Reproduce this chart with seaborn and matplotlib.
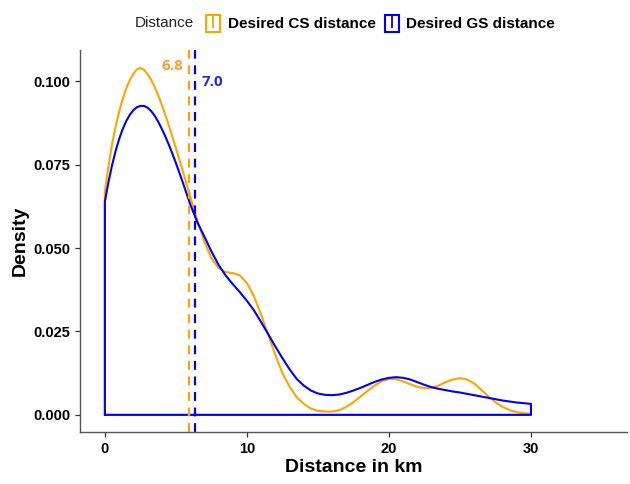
import matplotlib
matplotlib.use("Agg")
import matplotlib.pyplot as plt
import seaborn as sns
import pandas as pd
from matplotlib.patches import Patch
from matplotlib.lines import Line2D
from matplotlib.legend_handler import HandlerTuple

# density curves (km -> density)
distance_km = [0, 0.25, 0.5, 0.75, 1, 1.25, 1.5, 1.75, 2, 2.25, 2.5, 2.75, 3, 3.25, 3.5, 3.75,
               4, 4.25, 4.5, 4.75, 5, 5.5, 6, 6.5, 7, 7.5, 8, 8.5, 9, 9.5,
               10, 10.5, 11, 11.5, 12, 12.5, 13, 13.5, 14, 14.5, 15, 15.5, 16, 16.5, 17, 17.5,
               18, 18.5, 19, 19.5, 20, 20.5, 21, 21.5, 22, 22.5, 23, 23.5, 24, 24.5, 25, 25.5,
               26, 26.5, 27, 27.5, 28, 28.5, 29, 29.5, 30]
cs_density = [0.0670, 0.0745, 0.0810, 0.0863, 0.0908, 0.0946, 0.0978, 0.1003, 0.1022, 0.1035,
              0.1040, 0.1034, 0.1022, 0.1005, 0.0983, 0.0958, 0.0930, 0.0900, 0.0868, 0.0834,
              0.0800, 0.0728, 0.0655, 0.0585, 0.0520, 0.0470, 0.0440, 0.0428, 0.0425, 0.0418,
              0.0395, 0.0355, 0.0300, 0.0240, 0.0180, 0.0125, 0.0085, 0.0053, 0.0033, 0.0019,
              0.0012, 0.0010, 0.0010, 0.0014, 0.0024, 0.0038, 0.0055, 0.0072, 0.0088, 0.0101,
              0.0108, 0.0107, 0.0100, 0.0092, 0.0084, 0.0080, 0.0081, 0.0088, 0.0098, 0.0106,
              0.0110, 0.0106, 0.0094, 0.0075, 0.0055, 0.0038, 0.0024, 0.0014, 0.0008, 0.0005,
              0.0003]
gs_density = [0.0639, 0.0697, 0.0747, 0.0790, 0.0826, 0.0856, 0.0880, 0.0899, 0.0913, 0.0922,
              0.0926, 0.0926, 0.0921, 0.0911, 0.0897, 0.0879, 0.0858, 0.0835, 0.0810, 0.0783,
              0.0755, 0.0695, 0.0632, 0.0578, 0.0535, 0.0490, 0.0450, 0.0418, 0.0392, 0.0368,
              0.0342, 0.0313, 0.0278, 0.0242, 0.0205, 0.0170, 0.0137, 0.0108, 0.0088, 0.0073,
              0.0064, 0.0060, 0.0059, 0.0061, 0.0066, 0.0073, 0.0081, 0.0090, 0.0099, 0.0106,
              0.0111, 0.0113, 0.0111, 0.0106, 0.0098, 0.0090, 0.0083, 0.0078, 0.0074, 0.0070,
              0.0067, 0.0063, 0.0059, 0.0055, 0.0051, 0.0047, 0.0043, 0.0040, 0.0037, 0.0035,
              0.0033]

series_names = ["Desired CS distance", "Desired GS distance"]
series_colors = ["#FFA500", "#0000FF"]
label_colors = ["#F5A030", "#2B2BD0"]
mean_positions = [5.94, 6.36]   # where the dashed lines sit in the picture
mean_labels = ["6.8", "7.0"]
label_pos = [(4.75, 0.1045), (7.55, 0.0997)]

# closed outlines like ggplot's geom_density (baseline included)
frames = []
for name, dens in zip(series_names, [cs_density, gs_density]):
    xs = [distance_km[0]] + distance_km + [distance_km[-1], distance_km[0]]
    ys = [0.0] + dens + [0.0, 0.0]
    frames.append(pd.DataFrame({"x": xs, "y": ys, "Distance": name}))
df = pd.concat(frames, ignore_index=True)

sns.set_style("ticks")
plt.rcParams["font.family"] = ["Liberation Sans", "DejaVu Sans"]

fig = plt.figure(figsize=(6.3, 4.84), dpi=100)
ax = fig.add_axes([0.127, 0.107, 0.868, 0.790])

for name, col in zip(series_names, series_colors):
    sub = df[df["Distance"] == name]
    sns.lineplot(data=sub, x="x", y="y", color=col, sort=False, estimator=None,
                 linewidth=1.5, ax=ax)

for pos, col in zip(mean_positions, series_colors):
    ax.axvline(pos, color=col, linestyle=(0, (4, 3)), linewidth=1.6)

for (tx, ty), txt, col in zip(label_pos, mean_labels, label_colors):
    ax.text(tx, ty, txt, color=col, fontsize=11, fontweight="bold",
            family=["Open Sans", "DejaVu Sans"], ha="center", va="center")

ax.set_xlim(-1.75, 36.75)
ax.set_ylim(-0.0052, 0.1094)
ax.set_xticks([0, 10, 20, 30])
ax.set_yticks([0, 0.025, 0.05, 0.075, 0.1])
ax.set_yticklabels(["0.000", "0.025", "0.050", "0.075", "0.100"])
ax.tick_params(labelsize=10.5, colors="#333333", length=3.5, width=0.9)
for lab in ax.get_xticklabels() + ax.get_yticklabels():
    lab.set_fontweight("bold")
    lab.set_color("black")
ax.set_xlabel("Distance in km", fontsize=14, fontweight="bold", labelpad=2, color="black")
ax.set_ylabel("Density", fontsize=14, fontweight="bold", labelpad=3, color="black")
sns.despine(ax=ax)
for s in ["left", "bottom"]:
    ax.spines[s].set_color("#555555")
    ax.spines[s].set_linewidth(1.0)

# legend at top, title inline like ggplot
fig.text(0.214, 0.952, "Distance", fontsize=11, va="center", ha="left", color="#222222")
handles = [(Patch(facecolor="white", edgecolor=c, linewidth=1.5),
            Line2D([], [], color=c, marker="|", markersize=9, linestyle="none",
                   markeredgewidth=1.3))
           for c in series_colors]
leg = fig.legend(handles=handles, labels=series_names, loc="center left",
                 bbox_to_anchor=(0.318, 0.952), ncol=2, frameon=False,
                 handler_map={tuple: HandlerTuple(ndivide=1)},
                 prop={"weight": "bold", "size": 11}, handlelength=0.9, handleheight=1.3,
                 handletextpad=0.5, columnspacing=0.6, borderaxespad=0)
for t in leg.get_texts():
    t.set_color("black")

fig.savefig("out.png", dpi=100)
